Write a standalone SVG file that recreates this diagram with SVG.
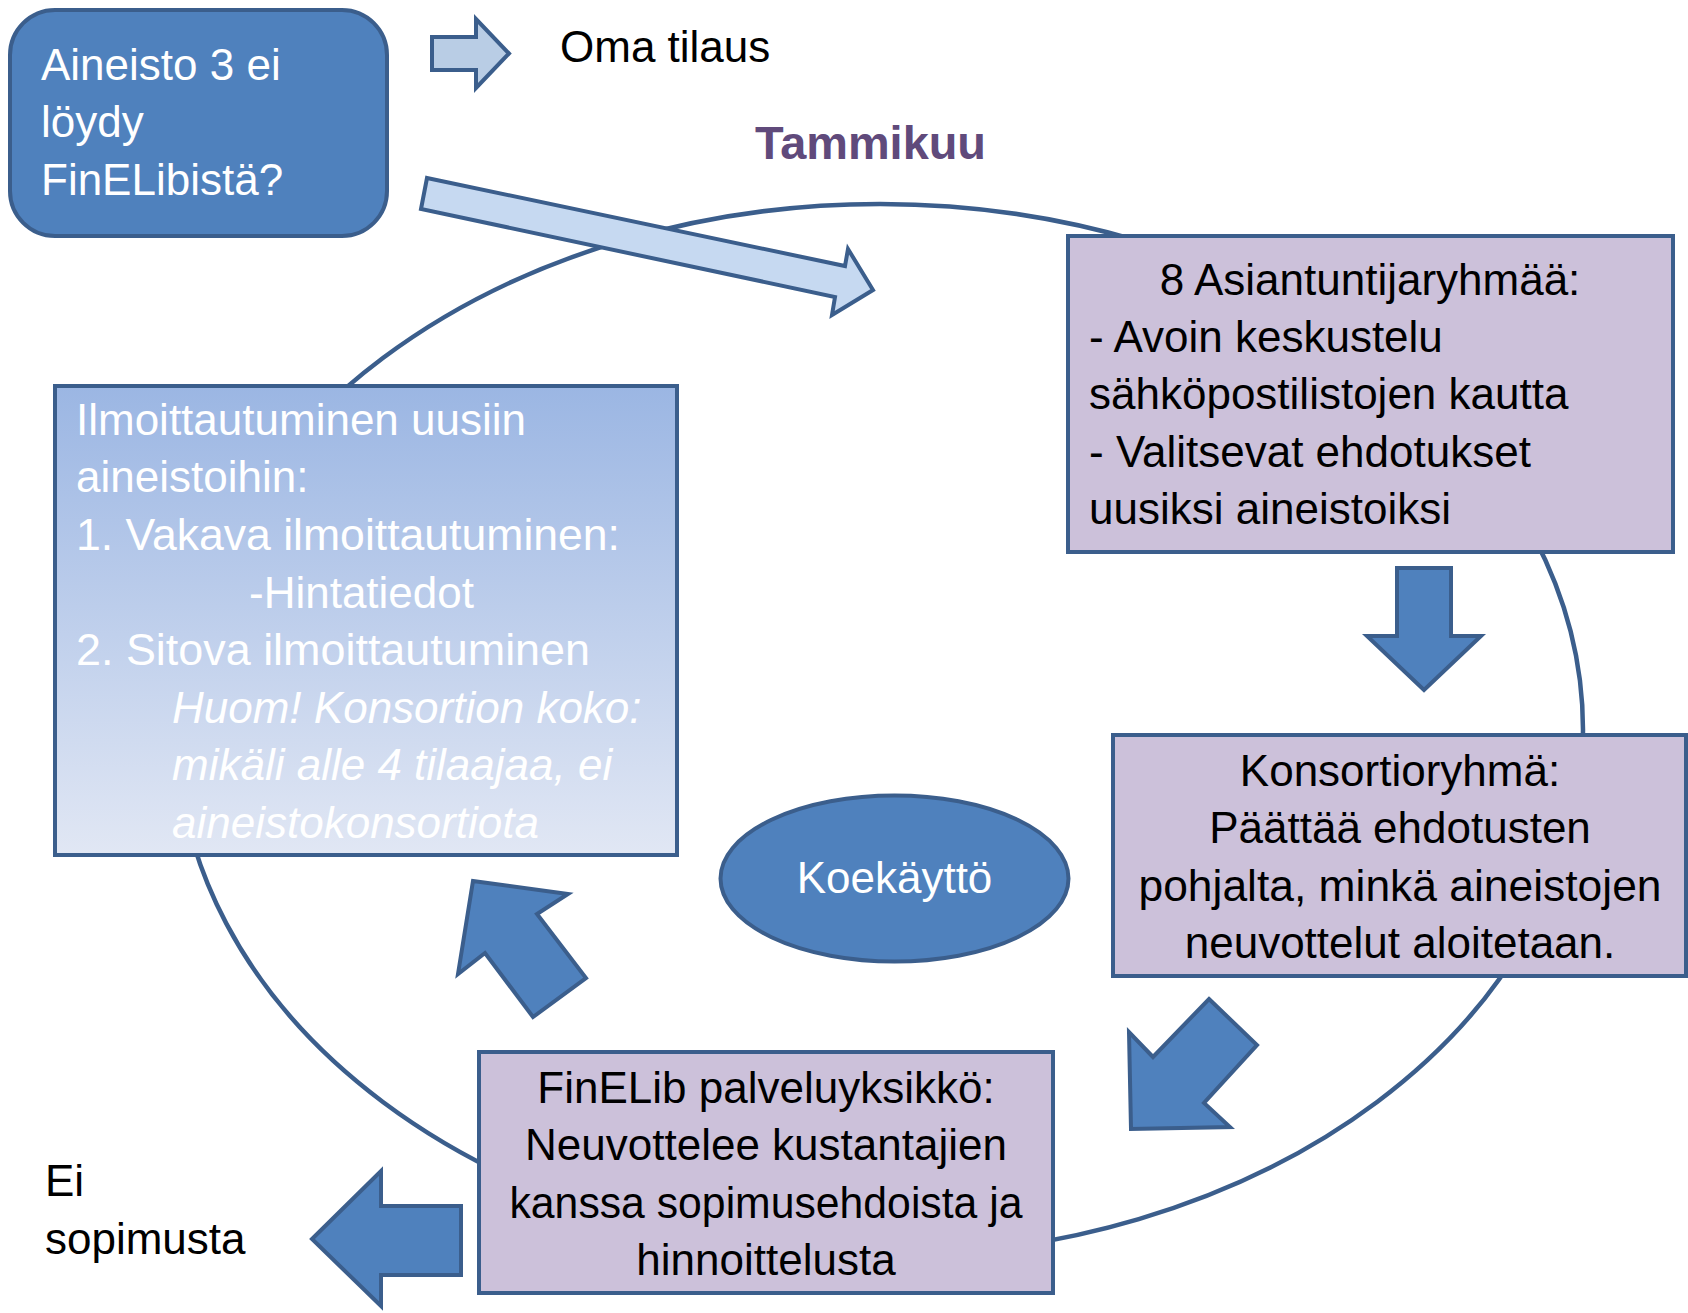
<svg xmlns="http://www.w3.org/2000/svg" width="1688" height="1313" viewBox="0 0 1688 1313">
<defs>
<style>
.t{font-family:"Liberation Sans",Arial,sans-serif;font-size:44px;fill:#000}
.w{fill:#fff}
.c{text-anchor:middle}
.box{fill:#CCC1DA;stroke:#3B5E8C;stroke-width:4}
.blue{fill:#4F81BD;stroke:#3B5E8C;stroke-width:4;stroke-linejoin:miter}
.light{stroke:#3B5E8C;stroke-width:4;stroke-linejoin:miter}
</style>
<linearGradient id="g1" x1="0" y1="0" x2="0" y2="1">
<stop offset="0" stop-color="#9BB6E3"/>
<stop offset="1" stop-color="#E1E7F4"/>
</linearGradient>
</defs>
<rect width="1688" height="1313" fill="#fff"/>
<g id="connectors">
<ellipse id="cycle" cx="880" cy="730" rx="703" ry="526" fill="none" stroke="#3B5E8C" stroke-width="4.5"/>
<polygon id="arrow-oma" class="light" fill="#B9CDE5" points="432,37 476,37 476,19 509,53.5 476,88 476,70 432,70"/>
<polygon id="arrow-tammikuu" class="light" fill="#C6D9F1" points="427,178 845,266 848,249 873,290 832,315 835,297 421,209"/>
<polygon id="arrow-down" class="blue" points="1397,568 1451,568 1451,636 1481,636 1424,690 1367,636 1397,636"/>
<polygon id="arrow-downleft" class="blue" points="1209,999 1257,1045 1204,1103 1230,1127 1131,1129 1129,1032 1153,1057"/>
<polygon id="arrow-upleft" class="blue" points="473,881 568,894 537,914 586,978 533,1017 485,953 458,974"/>
<polygon id="arrow-left" class="blue" points="312,1239 381,1171 381,1206 461,1206 461,1275 381,1275 381,1306"/>
</g>
<g id="node-aineisto">
<rect x="10" y="10" width="377" height="226" rx="45" ry="45" class="blue"/>
<text class="t w" x="41" y="80">Aineisto 3 ei</text>
<text class="t w" x="41" y="137">löydy</text>
<text class="t w" x="41" y="195">FinELibistä?</text>
</g>
<g id="label-oma">
<text class="t" x="560" y="62">Oma tilaus</text>
</g>
<g id="label-tammikuu">
<text class="t" x="755" y="159" style="font-weight:bold;font-size:46px;fill:#604A7B" textLength="231" lengthAdjust="spacingAndGlyphs">Tammikuu</text>
</g>
<g id="node-asiantuntija">
<rect x="1068" y="236" width="605" height="316" class="box"/>
<text class="t c" x="1370" y="295">8 Asiantuntijaryhmää:</text>
<text class="t" x="1089" y="352">- Avoin keskustelu</text>
<text class="t" x="1089" y="409">sähköpostilistojen kautta</text>
<text class="t" x="1089" y="467">- Valitsevat ehdotukset</text>
<text class="t" x="1089" y="524">uusiksi aineistoiksi</text>
</g>
<g id="node-konsortio">
<rect x="1113" y="735" width="573" height="241" class="box"/>
<text class="t c" x="1400" y="786">Konsortioryhmä:</text>
<text class="t c" x="1400" y="843">Päättää ehdotusten</text>
<text class="t c" x="1400" y="901" textLength="523" lengthAdjust="spacingAndGlyphs">pohjalta, minkä aineistojen</text>
<text class="t c" x="1400" y="958">neuvottelut aloitetaan.</text>
</g>
<g id="node-koekaytto">
<ellipse cx="894.5" cy="878.5" rx="174" ry="83" class="blue"/>
<text class="t w c" x="894.5" y="893">Koekäyttö</text>
</g>
<g id="node-ilmoittautuminen">
<rect x="55" y="386" width="622" height="469" fill="url(#g1)" stroke="#3B5E8C" stroke-width="4"/>
<text class="t w" x="76" y="435">Ilmoittautuminen uusiin</text>
<text class="t w" x="76" y="492">aineistoihin:</text>
<text class="t w" x="76" y="550" textLength="544" lengthAdjust="spacingAndGlyphs">1. Vakava ilmoittautuminen:</text>
<text class="t w" x="249" y="608">-Hintatiedot</text>
<text class="t w" x="76" y="665" textLength="514" lengthAdjust="spacingAndGlyphs">2. Sitova ilmoittautuminen</text>
<text class="t w" x="172" y="723" font-style="italic">Huom! Konsortion koko:</text>
<text class="t w" x="172" y="780" font-style="italic">mikäli alle 4 tilaajaa, ei</text>
<text class="t w" x="172" y="838" font-style="italic">aineistokonsortiota</text>
</g>
<g id="node-finelib">
<rect x="479" y="1052" width="574" height="241" class="box"/>
<text class="t c" x="766" y="1103">FinELib palveluyksikkö:</text>
<text class="t c" x="766" y="1160">Neuvottelee kustantajien</text>
<text class="t c" x="766" y="1218" textLength="513" lengthAdjust="spacingAndGlyphs">kanssa sopimusehdoista ja</text>
<text class="t c" x="766" y="1275">hinnoittelusta</text>
</g>
<g id="label-ei-sopimusta">
<text class="t" x="45" y="1196">Ei</text>
<text class="t" x="45" y="1254">sopimusta</text>
</g>
</svg>
